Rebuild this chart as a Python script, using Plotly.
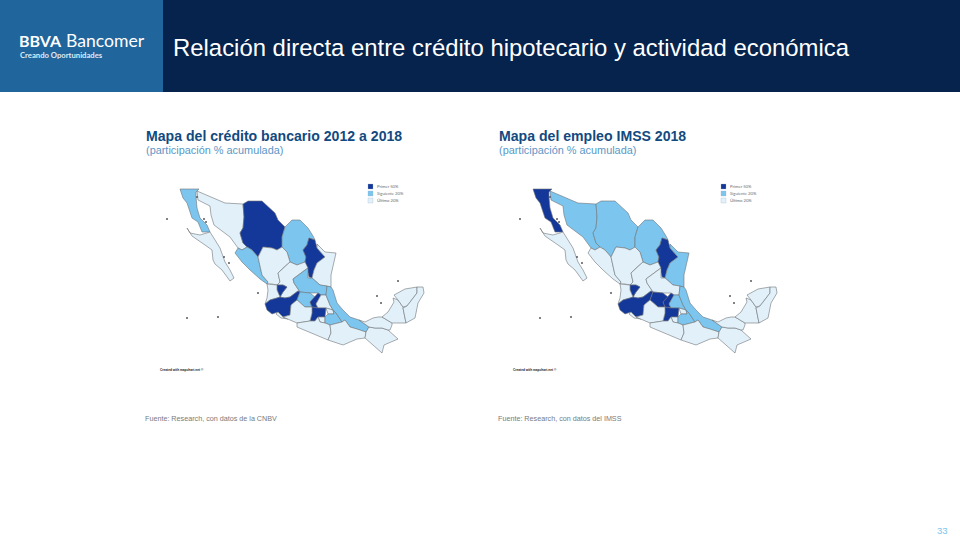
import plotly.graph_objects as go

W, H = 960, 540

# ---------- data: state outlines (map units, y down) ----------
BC = [(180,189),(199,189),(196,192),(196,197),(197,208),(200,218),(207,225),(210,232),(202,232),(198,222),(192,218),(190,212),(187,203),(183,198)]
BCS = [(187,228),(190,233),(200,235),(210,232),(215,240),(220,248),(225,262),(230,270),(234,278),(230,281),(222,270),(215,264),(213,260),(212,250),(205,245),(198,240),(192,236)]
SON = [(197,191),(225,203),(243,204),(244,217),(243,228),(240,233),(243,243),(247,247),(242,250),(238,248),(230,237),(225,233),(214,225),(211,215),(210,206),(198,200)]
CHH = [(243,204),(248,201),(262,201),(268,207),(275,213),(278,220),(285,227),(282,237),(282,247),(277,250),(272,248),(263,247),(258,257),(252,250),(247,247),(243,243),(240,233),(243,228),(244,217)]
COA = [(285,227),(292,220),(300,220),(308,228),(313,236),(315,240),(309,238),(307,245),(303,250),(306,257),(305,262),(297,265),(290,262),(287,252),(282,247),(282,237)]
NLE = [(309,238),(315,240),(317,248),(325,257),(317,263),(314,270),(312,278),(309,277),(307,268),(305,262),(306,257),(303,250),(307,245)]
TAM = [(317,244),(325,252),(336,253),(333,265),(331,275),(331,287),(327,286),(320,285),(312,278),(314,270),(317,263),(325,257),(317,248)]
SIN = [(235,253),(238,248),(242,250),(247,247),(252,250),(258,257),(262,275),(268,282),(267,284),(260,279),(250,270),(242,262)]
DUR = [(263,247),(272,248),(277,250),(282,247),(287,252),(290,262),(283,268),(278,273),(280,282),(277,285),(272,284),(267,284),(268,282),(262,275),(258,257)]
ZAC = [(278,273),(283,268),(290,262),(297,265),(305,262),(308,268),(305,270),(293,279),(294,283),(300,292),(298,291),(290,297),(285,298),(280,297),(283,292),(287,287),(283,285),(277,285),(280,282)]
SLP = [(293,279),(305,270),(308,268),(308,278),(312,278),(320,285),(327,286),(326,295),(321,295),(318,293),(310,293),(300,292),(294,283)]
AGS = [(277,285),(283,285),(287,287),(283,292),(280,297),(277,290)]
NAY = [(267,284),(277,285),(277,290),(280,297),(277,298),(270,300),(265,304),(267,298),(268,290)]
JAL = [(265,304),(270,300),(277,298),(280,297),(285,298),(290,297),(298,291),(300,292),(297,300),(291,305),(290,315),(283,317),(278,312),(272,314),(267,310)]
GTO = [(300,292),(310,293),(315,297),(310,302),(312,307),(305,307),(297,300)]
QRO = [(310,302),(315,297),(318,293),(321,295),(316,304),(318,308),(312,307)]
HGO = [(321,295),(326,295),(330,305),(333,310),(326,308),(318,308),(316,304)]
MEX = [(312,307),(318,308),(326,308),(325,317),(318,317),(315,321),(310,321),(312,313)]
TLA = [(326,308),(333,310),(334,314),(328,314)]
MOR = [(318,317),(325,317),(325,323),(320,322)]
PUE = [(333,310),(336,313),(342,322),(330,325),(325,323),(325,317),(328,314),(334,314)]
VER = [(327,286),(331,287),(333,290),(335,297),(337,303),(343,310),(350,317),(359,320),(369,327),(366,332),(357,329),(350,327),(345,320),(342,322),(336,313),(333,310),(330,305),(326,295)]
COL = [(278,312),(283,317),(288,319),(281,318),(276,314)]
MIC = [(283,317),(290,315),(291,305),(297,300),(305,307),(312,307),(312,313),(310,321),(297,323),(288,319)]
GRO = [(297,323),(310,321),(315,321),(318,317),(320,322),(325,323),(330,325),(331,333),(328,340),(312,333),(297,327)]
OAX = [(330,325),(342,322),(345,320),(350,327),(357,329),(366,332),(365,338),(357,339),(343,345),(328,340),(331,333)]
CHP = [(369,327),(375,328),(382,328),(388,330),(398,339),(384,345),(382,353),(365,338),(366,332)]
TAB = [(359,320),(365,322),(373,318),(378,317),(382,317),(392,323),(392,325),(390,330),(388,330),(382,328),(375,328),(369,327)]
CAM = [(393,298),(398,300),(403,307),(403,308),(406,323),(392,323),(382,317),(388,312),(394,302)]
YUC = [(394,295),(405,289),(417,287),(417,293),(407,306),(403,307),(398,300)]
ROO = [(417,287),(423,287),(424,293),(418,303),(415,318),(406,323),(403,308),(407,306),(417,293)]

state_shapes = {
    "Baja California": BC, "Baja California Sur": BCS, "Sonora": SON, "Chihuahua": CHH,
    "Coahuila": COA, "Nuevo León": NLE, "Tamaulipas": TAM, "Sinaloa": SIN, "Durango": DUR,
    "Zacatecas": ZAC, "San Luis Potosí": SLP, "Aguascalientes": AGS, "Nayarit": NAY,
    "Jalisco": JAL, "Guanajuato": GTO, "Querétaro": QRO, "Hidalgo": HGO, "México": MEX,
    "Tlaxcala": TLA, "Morelos": MOR, "Puebla": PUE, "Veracruz": VER, "Colima": COL,
    "Michoacán": MIC, "Guerrero": GRO, "Oaxaca": OAX, "Chiapas": CHP, "Tabasco": TAB,
    "Campeche": CAM, "Yucatán": YUC, "Quintana Roo": ROO,
}

island_x = [167, 204, 206, 197, 258, 187, 218, 398, 377, 381, 224, 229]
island_y = [219, 219, 222, 197, 293, 318, 317, 281, 296, 303, 257, 263]

# class per state: 0 = Primer 50%, 1 = Siguiente 20%, 2 = Último 20%
credit_dark = ["Chihuahua", "Nuevo León", "Aguascalientes", "Jalisco", "Querétaro", "México"]
credit_mid = ["Baja California", "Coahuila", "Sinaloa", "San Luis Potosí", "Guanajuato", "Puebla", "Veracruz"]
imss_dark = ["Baja California", "Nuevo León", "Aguascalientes", "Jalisco", "Guanajuato", "Querétaro", "México"]
imss_mid = ["Sonora", "Chihuahua", "Coahuila", "Tamaulipas", "Hidalgo", "Puebla", "Veracruz"]

legend_labels = ["Primer 50%", "Siguiente 20%", "Último 20%"]
map_titles = ["Mapa del crédito bancario 2012 a 2018", "Mapa del empleo IMSS 2018"]
map_subtitle = "(participación % acumulada)"
map_sources = ["Fuente: Research, con datos de la CNBV", "Fuente: Research, con datos del IMSS"]
page_title = "Relación directa entre crédito hipotecario y actividad económica"

# ---------- style ----------
COLORS = ["#14389a", "#7cc5ee", "#e2f1f9"]
EDGE = "#6f7378"
NAVY = "#05234c"
STEEL = "#20659c"
TITLE_BLUE = "#124a80"
SUB_BLUE = "#5a97c6"
MAP_X_RANGE = [140, 440]
MAP_Y_RANGE = [385, 170]
OFFSET = 353

fig = go.Figure()


def add_map(axis_suffix, dark, mid):
    for name, pts in state_shapes.items():
        cls = 0 if name in dark else 1 if name in mid else 2
        fig.add_trace(go.Scatter(
            x=[p[0] for p in pts] + [pts[0][0]], y=[p[1] for p in pts] + [pts[0][1]],
            mode="lines", fill="toself", fillcolor=COLORS[cls],
            line=dict(color=EDGE, width=0.6), name=name, hoverinfo="name",
            showlegend=False, xaxis="x" + axis_suffix, yaxis="y" + axis_suffix))
    fig.add_trace(go.Scatter(
        x=island_x, y=island_y, mode="markers",
        marker=dict(color="#555a60", size=2), hoverinfo="skip", showlegend=False,
        xaxis="x" + axis_suffix, yaxis="y" + axis_suffix))
    fig.add_trace(go.Scatter(
        x=[370.5] * 3, y=[186.5, 193.5, 200.5], mode="markers",
        marker=dict(symbol="square", size=5, color=COLORS, line=dict(color="#9fb4c4", width=0.3)),
        hoverinfo="skip", showlegend=False,
        xaxis="x" + axis_suffix, yaxis="y" + axis_suffix))


add_map("", credit_dark, credit_mid)
add_map("2", imss_dark, imss_mid)


def ax(domain_px, total):
    return [domain_px[0] / total, domain_px[1] / total]


axis_common = dict(visible=False, fixedrange=True)
fig.update_layout(
    width=W, height=H, margin=dict(l=0, r=0, t=0, b=0),
    paper_bgcolor="white", plot_bgcolor="white", showlegend=False,
    xaxis=dict(domain=ax((140, 440), W), range=MAP_X_RANGE, **axis_common),
    yaxis=dict(domain=[1 - 385 / H, 1 - 170 / H], range=MAP_Y_RANGE, **axis_common),
    xaxis2=dict(domain=ax((140 + OFFSET, 440 + OFFSET), W), range=MAP_X_RANGE, anchor="y2", **axis_common),
    yaxis2=dict(domain=[1 - 385 / H, 1 - 170 / H], range=MAP_Y_RANGE, anchor="x2", **axis_common),
)

fig.add_shape(type="rect", xref="paper", yref="paper", x0=163 / W, x1=1, y0=1 - 92 / H, y1=1,
              fillcolor=NAVY, line_width=0, layer="below")
fig.add_shape(type="rect", xref="paper", yref="paper", x0=0, x1=163 / W, y0=1 - 92 / H, y1=1,
              fillcolor=STEEL, line_width=0, layer="below")


def text(x, y, s, size, color, family="Liberation Sans", anchor="left"):
    fig.add_annotation(xref="paper", yref="paper", x=x / W, y=1 - y / H, text=s, showarrow=False,
                       xanchor=anchor, yanchor="middle", align="left", borderpad=0, borderwidth=0,
                       font=dict(size=size, color=color, family=family))


text(173, 47.5, page_title, 23.9, "white")
text(19, 40.5, "<b>BBVA</b>", 16, "white", "Lato")
text(65.5, 40, "Bancomer", 17.6, "white", "Lato")
text(20, 55.5, "<b>Creando Oportunidades</b>", 7.7, "#dfeaf3", "Lato")
text(948, 530, "33", 9.5, "#7cc5ee", anchor="right")

for i, dx in enumerate([0, OFFSET]):
    text(146 + dx, 136, "<b>" + map_titles[i] + "</b>", 14.1, TITLE_BLUE)
    text(146 + dx, 150, map_subtitle, 10.9, SUB_BLUE)
    text(145 + dx, 418, map_sources[i], 7.2, "#777b80")
    text(160 + dx, 370, "<b>Created with mapchart.net ©</b>", 3.2, "#222222")
    for lab, yy in zip(legend_labels, [186.5, 193.5, 200.5]):
        text(377 + dx, yy, lab, 4.2, "#6a6e73", "Lato")

fig.write_html("out.html", config=dict(displayModeBar=False),
               post_script="document.body.style.margin='0';")
